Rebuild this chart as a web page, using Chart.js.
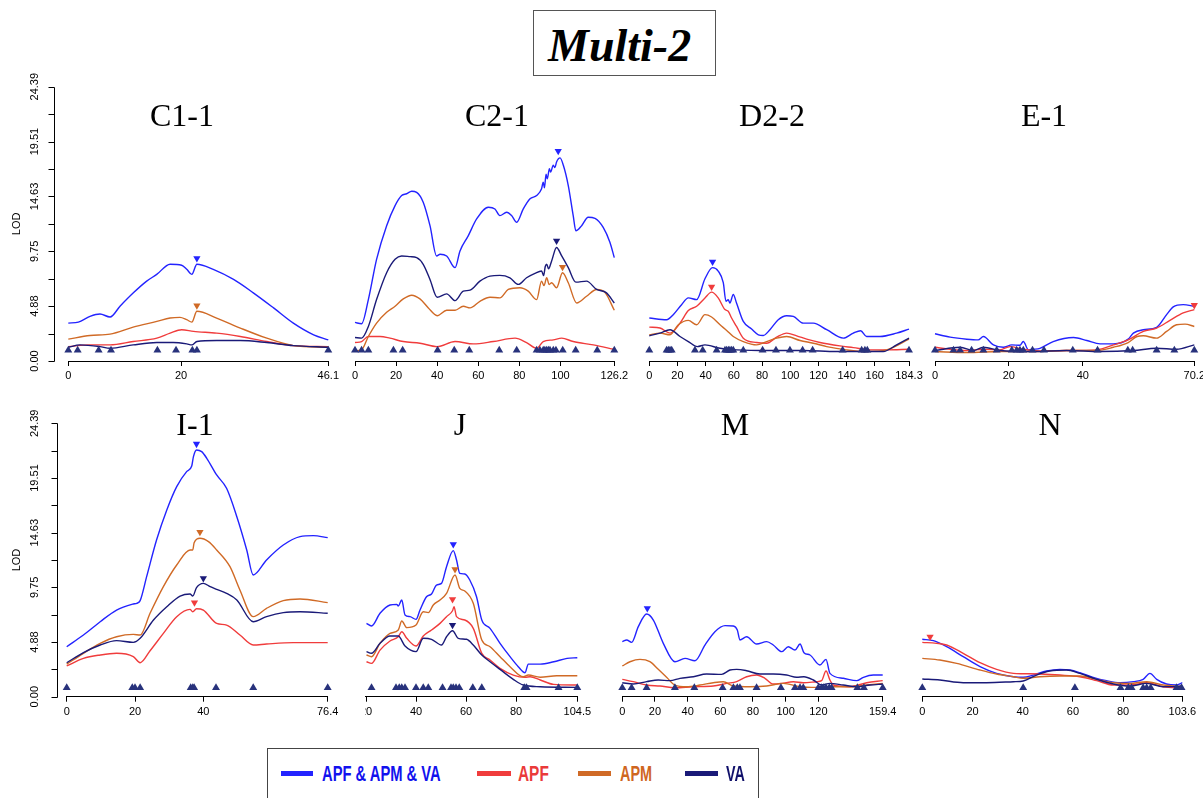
<!DOCTYPE html>
<html>
<head>
<meta charset="utf-8">
<script src="https://cdn.jsdelivr.net/npm/chart.js@4.4.1/dist/chart.umd.min.js"></script>
<style>
  html,body{margin:0;padding:0;background:#fff;}
  body{width:1203px;height:798px;overflow:hidden;position:relative;font-family:"Liberation Sans",Arial,sans-serif;}
  .cv{position:absolute;}
  .clipwrap{position:absolute;overflow:hidden;}
  .ptitle{position:absolute;font-family:"Liberation Serif","Times New Roman",serif;font-size:32px;line-height:32px;color:#000;white-space:nowrap;transform:translateX(-50%);}
  #hdr{position:absolute;left:533px;top:10px;width:181px;height:64px;border:1.5px solid #555;box-sizing:content-box;}
  #hdrtxt{position:absolute;left:548px;top:23px;font-family:"Liberation Serif","Times New Roman",serif;font-weight:bold;font-style:italic;font-size:46px;line-height:46px;color:#000;white-space:nowrap;}
  #legend{position:absolute;left:267px;top:748px;width:490px;height:70px;border:1px solid #444;}
  .lgline{position:absolute;height:5px;}
  .lgtxt{position:absolute;font-family:"Liberation Sans",Arial,sans-serif;font-weight:bold;font-size:22px;line-height:22px;white-space:nowrap;transform-origin:0 50%;}
</style>
</head>
<body>
<div id="hdr"></div>
<div id="hdrtxt">Multi-2</div>
<div id="legend"></div>
<script>
// ---------------- DATA ----------------
const SERIES_NAMES = ['APF & APM & VA', 'APF', 'APM', 'VA'];
const Y_MIN = 0, Y_MAX = 24.39;
const Y_TICKS = [0, 2.439, 4.878, 7.317, 9.756, 12.195, 14.634, 17.073, 19.512, 21.951, 24.39];
const Y_LABELS = ['0.00', '', '4.88', '', '9.75', '', '14.63', '', '19.51', '', '24.39'];
const Y_TITLE = 'LOD';
const PANEL_NAMES = ['C1-1', 'C2-1', 'D2-2', 'E-1', 'I-1', 'J', 'M', 'N'];
const PANEL_LENGTHS = [46.1, 126.2, 184.3, 70.2, 76.4, 104.5, 159.4, 103.6];

const C11_TICKS = [0, 20, 46.1];
const C21_TICKS = [0, 20, 40, 60, 80, 100, 126.2];
const D22_TICKS = [0, 20, 40, 60, 80, 100, 120, 140, 160, 184.3];
const E1_TICKS  = [0, 20, 40, 70.2];
const I1_TICKS  = [0, 20, 40, 76.4];
const J_TICKS   = [0, 20, 40, 60, 80, 104.5];
const M_TICKS   = [0, 20, 40, 60, 80, 100, 120, 159.4];
const N_TICKS   = [0, 20, 40, 60, 80, 103.6];

// marker (triangle) height per row, LOD units
const MARK_Y = [0.95, 0.8];

// C1-1
const C11_ALL = [[0,3.37],[1.78,3.46],[3.85,3.97],[5.62,4.18],[7.4,3.91],[9.17,4.87],[11.54,6.06],[13.9,7.1],[15.68,7.7],[18.05,8.6],[20.1,8.51],[21.0,8.15],[21.9,7.7],[22.8,8.6],[25.7,8.15],[29.3,7.25],[32.8,6.06],[36.4,4.72],[39.9,3.37],[43.5,2.33],[46.1,1.88]];
const C11_APF = [[0,1.28],[3.85,1.43],[7.4,1.43],[11.5,1.73],[15.7,2.03],[18.05,2.48],[20.1,2.78],[22.2,2.63],[26.3,2.48],[30.5,2.18],[35.2,1.73],[39.9,1.37],[46.1,1.28]];
const C11_APM = [[0,1.94],[3.85,2.27],[7.4,2.39],[11.5,3.01],[15.7,3.52],[18.05,3.82],[19.8,3.88],[21,3.67],[21.9,3.46],[22.8,4.42],[26.3,3.82],[30.5,2.93],[35.2,2.03],[39.9,1.37],[46.1,1.22]];
const C11_VA  = [[0,1.22],[2.07,1.43],[5.6,1.28],[7.4,1.13],[11.5,1.43],[15.7,1.64],[18.6,1.64],[21,1.52],[21.9,1.43],[22.8,1.73],[26.3,1.82],[30.5,1.82],[35.2,1.64],[39.9,1.37],[46.1,1.22]];
const C11_MARKERS = [0,1.66,5.38,7.57,15.8,19.1,22.0,22.8,46.1];
const C11_PEAKS = [[0,22.8,9.13],[2,22.8,4.93]];

// C2-1
const C21_ALL = [[0,3.43],[3.2,3.31],[6.5,5.46],[10.5,9.04],[15.4,12.03],[19.5,13.82],[22.7,14.72],[25.1,14.87],[27.6,15.1],[30,15.0],[33.2,14.12],[36.5,12.03],[39.7,9.34],[41.4,9.49],[44.6,9.34],[48.7,8.3],[51.1,9.79],[55.1,11.13],[59.2,12.63],[64.9,13.67],[68.1,13.52],[70.5,12.93],[73.8,13.22],[76.2,12.93],[78.7,12.33],[81.9,13.52],[85.2,14.42],[88.4,14.72],[90.8,15.31],[91.6,15.9],[92.2,15.4],[93.0,16.6],[93.6,16.2],[94.6,17.1],[95.2,16.8],[96.5,17.4],[97.3,17.2],[98.1,17.7],[99.8,18.06],[101.4,17.4],[103.8,15.6],[106.2,12.93],[107.5,11.58],[110.3,12.03],[113.5,12.78],[116.8,12.69],[120.8,11.88],[124.1,10.54],[126.2,9.19]];
const C21_APF = [[0,1.64],[3.2,1.73],[6.5,2.18],[8.9,2.18],[12.2,2.18],[17,2.03],[23.5,1.73],[31.6,1.58],[40,1.28],[48.7,1.73],[57.6,1.52],[67.3,1.73],[77.9,2.03],[83.5,1.64],[88.4,1.13],[91.6,1.73],[96.5,1.88],[100.6,2.03],[106.2,1.73],[116,1.43],[126.2,1.04]];
const C21_APM = [[0,0.9],[3.2,0.99],[6.5,2.18],[10.5,3.37],[15.4,4.33],[19.5,4.87],[23.5,5.52],[27.6,5.85],[31.6,5.52],[35.7,4.72],[40,4.03],[44.6,4.51],[48.7,4.51],[52.7,4.87],[56,4.72],[60.8,5.31],[65.7,5.67],[70.5,5.61],[74.6,6.36],[80.3,6.51],[84.3,6.21],[88.4,5.46],[90.8,7.1],[92.0,6.7],[93.3,7.4],[94.5,6.8],[95.7,6.96],[98.1,6.51],[101,7.85],[103.8,6.96],[107.9,5.16],[112.7,5.76],[117.6,6.36],[121.6,6.12],[126.2,4.51]];
const C21_VA  = [[0,2.09],[3.2,2.03],[6.5,3.07],[10.5,5.46],[15.4,7.85],[19.5,9.04],[22.7,9.34],[26.8,9.28],[30,9.19],[33.2,8.6],[36.5,7.25],[40,5.67],[44.6,5.97],[48.7,5.37],[52.7,6.21],[56,6.3],[60.8,7.1],[65.7,7.55],[70.5,7.61],[75.4,7.4],[79.5,6.81],[83.5,7.4],[87.6,7.79],[90.8,8.0],[91.8,7.6],[92.6,8.4],[93.3,8.6],[94.2,8.2],[95.7,8.9],[98.1,10.09],[100.6,9.34],[103.8,8.3],[107.5,7.01],[112.7,7.1],[117.6,6.36],[122.4,6.06],[126.2,5.16]];
const C21_MARKERS = [0,3.2,6.5,18.7,23.2,40.2,48.3,55.6,70.2,78.7,88.4,90.0,91.6,92.4,93.3,94.1,94.9,96.5,97.8,101.1,107.4,117.9,126.2];
const C21_PEAKS = [[0,98.9,18.66],[3,98.1,10.69],[2,101,8.36]];

// D2-2
const D22_ALL = [[0,3.82],[12.3,3.67],[17,4.12],[22.9,5.01],[27.7,5.61],[33.6,5.46],[39.5,7.31],[44.9,8.3],[48.9,8.0],[52.5,6.96],[54.4,5.31],[56,5.46],[57.2,5.16],[59.6,5.91],[61.9,5.16],[66.7,3.52],[72.6,2.84],[77.4,2.33],[80.9,2.27],[85.6,2.78],[91.5,3.67],[97.5,4.03],[102.2,3.97],[109.3,3.37],[116.4,3.37],[125.9,2.78],[137.7,2.03],[144.8,2.48],[150,2.69],[154.2,2.18],[163.7,2.18],[175.5,2.48],[184.3,2.84]];
const D22_APF = [[0,3.01],[7.6,2.93],[14.7,2.48],[21.8,3.37],[27.7,4.48],[33.6,4.87],[39.5,5.61],[44.2,6.12],[48.9,5.61],[53.7,4.57],[56,4.42],[58.4,3.82],[61.9,3.07],[66.7,2.03],[76.2,1.64],[83.3,1.58],[90.4,2.12],[97.5,2.48],[104.6,2.24],[111.7,1.94],[121.1,1.64],[135.3,1.34],[144.8,1.19],[156.6,0.99],[168.4,0.99],[184.3,1.04]];
const D22_APM = [[0,2.33],[7.6,2.48],[14.7,2.33],[20.6,3.22],[27.7,3.61],[33.6,3.22],[39.5,4.12],[44.2,3.91],[50.2,3.22],[54.9,2.72],[59.6,2.18],[66.7,1.73],[76.2,1.43],[83.3,1.73],[90.4,2.03],[97.5,2.18],[107,1.82],[116.4,1.58],[125.9,1.28],[140,0.99],[154.2,0.84],[168.4,0.99],[184.3,1.94]];
const D22_VA  = [[0,2.24],[7.6,2.48],[14.7,2.78],[21.8,2.18],[27.7,1.73],[34.1,1.28],[39.5,1.43],[50.2,1.13],[61.9,0.99],[85.6,0.93],[109.3,0.93],[132.9,0.84],[154.2,0.84],[166,0.84],[175.5,1.43],[184.3,2.03]];
const D22_MARKERS = [0,12.3,13.5,14.7,15.9,32.4,37.9,47.8,53.7,54.9,56.1,57.2,58.4,59.6,66.7,80.4,89.9,99.8,108.8,115.9,137.2,150.7,153,154.7,184.3];
const D22_PEAKS = [[0,44.9,8.81],[1,44.2,6.6]];

// E-1
const E1_ALL = [[0,2.42],[4.1,2.12],[8.6,1.94],[11.7,1.88],[13.1,2.18],[15.8,1.43],[18.5,1.22],[20.8,1.43],[23,1.4],[23.9,1.73],[25.3,0.99],[26.6,1.04],[28.4,1.13],[32,1.73],[37.5,2.09],[41.1,1.82],[44.7,1.52],[48.3,1.52],[52.3,1.94],[53.7,2.48],[56.4,2.78],[60,2.99],[62.7,4.12],[64.5,4.81],[67.2,5.01],[70.2,4.87]];
const E1_APF = [[0,1.22],[4.1,1.04],[8.6,0.93],[13.1,1.04],[17.6,0.99],[20.3,1.28],[23.9,1.04],[28.4,0.9],[35.6,0.93],[43.8,0.99],[48.3,1.43],[52.3,1.88],[56.4,2.63],[60,2.93],[63.6,3.61],[67.2,4.27],[70.2,4.57]];
const E1_APM = [[0,0.84],[8.6,0.75],[17.6,0.84],[26.6,0.84],[35.6,0.93],[43.8,0.93],[48.3,1.22],[52.3,1.64],[54.7,2.18],[56.4,2.24],[60,2.03],[62.7,2.63],[65.4,3.22],[67.7,3.28],[70.2,3.07]];
const E1_VA  = [[0,0.93],[6.8,1.22],[10.4,0.93],[13.1,1.22],[17.6,0.93],[26.6,0.84],[35.6,0.93],[44.7,0.84],[53.7,0.93],[60,1.13],[65.4,1.04],[70.2,1.43]];
const E1_MARKERS = [0,5.0,6.8,9.9,13.1,16.7,20.8,22.1,23.0,23.9,26.4,29.5,37.3,44.0,52.2,53.5,60.0,64.8,70.2];
const E1_PEAKS = [[1,70.2,4.96]];

// I-1
const I1_ALL = [[0,4.46],[4.9,5.5],[9.8,6.69],[14.6,7.73],[19.5,8.27],[20.5,8.33],[21.5,8.57],[23.4,10.71],[26.3,13.98],[29.3,16.66],[32.2,18.74],[35.1,20.08],[36.6,20.58],[37.1,21.42],[38,22.01],[39.5,21.86],[41,21.27],[43.9,19.78],[46.8,18.59],[49.8,16.06],[52.7,13.09],[54.6,10.86],[58.5,12.2],[63.4,13.53],[68.3,14.28],[72.2,14.37],[76.4,14.19]];
const I1_APF = [[0,2.74],[4.9,3.42],[9.8,3.72],[14.6,3.87],[19.5,3.57],[21.5,3.03],[24.4,4.1],[28.3,5.65],[32.2,7.14],[36.1,7.79],[36.9,7.58],[38,7.85],[40,7.73],[43.9,6.54],[46.8,6.39],[50.7,5.5],[54.6,4.61],[58.5,4.7],[66.3,4.82],[76.4,4.82]];
const I1_APM = [[0,2.91],[4.9,3.87],[9.8,4.76],[14.6,5.35],[19.5,5.56],[21.5,5.5],[24.4,7.44],[28.3,9.82],[32.2,11.75],[36.1,13.09],[36.9,13.09],[37.3,13.74],[39,14.13],[41.5,13.83],[43.9,13.09],[47.8,11.6],[50.7,9.52],[54.6,7.14],[58.5,7.88],[63.4,8.57],[68.3,8.72],[76.4,8.39]];
const I1_VA  = [[0,3.03],[4.9,3.93],[9.8,4.61],[14.6,5.0],[19.5,4.85],[21.5,5.21],[25.4,6.84],[29.3,8.03],[33.2,8.98],[36.1,9.16],[36.9,8.98],[38,9.73],[40,10.11],[42,9.82],[43.9,9.58],[46.8,9.22],[49.8,8.63],[54.6,6.69],[58.5,7.14],[63.4,7.5],[68.3,7.58],[76.4,7.44]];
const I1_MARKERS = [0,19.2,20.0,21.5,36.3,36.9,37.3,43.7,54.6,76.4];
const I1_PEAKS = [[0,38,22.55],[2,39,14.69],[3,40,10.56],[1,37.4,8.39]];

// J
const J_ALL = [[20.2,6.54],[22.2,6.31],[25.6,7.44],[29.6,8.18],[32.3,8.24],[32.9,8.09],[34.3,8.63],[35.6,7.29],[37.6,7.14],[40.0,6.9],[41.6,7.73],[44.2,8.92],[46.2,9.16],[48.2,9.96],[50.2,10.11],[52.2,11.6],[54.9,13.03],[56.2,12.2],[57.5,11.0],[59.5,10.95],[61.5,10.41],[64.2,8.92],[66.3,6.84],[69.6,6.1],[73.6,4.76],[77.6,3.57],[80.9,2.68],[83.6,2.14],[84.9,2.91],[89.7,2.91],[95.1,3.12],[100.4,3.42],[104.5,3.48]];
const J_APF = [[20.2,3.12],[22.2,2.97],[25.6,4.16],[29.6,4.97],[32.9,5.35],[34.3,5.8],[36.3,5.21],[40.0,4.52],[42.9,5.41],[46.2,5.95],[49.6,6.54],[52.2,7.14],[54.6,7.67],[55.2,8.03],[56.2,7.14],[59.5,6.84],[62.9,6.1],[66.3,3.87],[69.6,3.27],[73.6,2.53],[78.9,1.93],[83.6,1.73],[85.6,1.78],[89.7,1.49],[95.0,1.1],[104.5,1.04]];
const J_APM = [[20.2,3.72],[22.2,3.57],[25.6,4.76],[29.6,5.65],[32.9,5.95],[34.3,6.75],[36.3,6.16],[40.0,6.39],[42.9,7.58],[44.9,7.5],[46.9,8.18],[49.6,8.63],[52.2,9.22],[55.6,10.86],[57.5,9.67],[59.5,9.43],[62.9,8.33],[66.3,5.06],[69.6,4.46],[73.6,3.57],[77.6,2.68],[82.9,1.78],[84.9,1.93],[89.7,1.73],[96.3,1.87],[104.5,1.87]];
const J_VA  = [[20.2,4.02],[22.2,3.87],[25.6,4.76],[29.6,5.41],[32.9,5.41],[35.6,4.52],[40.0,4.02],[42.9,5.21],[46.2,5.12],[50.2,4.61],[52.2,5.35],[54.6,5.89],[56.9,5.21],[60.2,5.12],[62.9,4.61],[66.3,3.72],[69.6,3.12],[73.6,2.44],[78.9,1.55],[82.9,1.04],[89.7,0.89],[104.5,0.83]];
const J_MARKERS = [22.2,32.0,33.3,34.3,35.6,40.0,42.9,44.9,50.6,54.0,54.9,56.0,57.3,62.7,66.3,83.3,84.2,97.0,104.5];
const J_PEAKS = [[0,54.9,13.59],[2,55.6,11.36],[1,54.6,8.69],[3,54.6,6.39]];

// M
const M_ALL = [[0,4.91],[2.7,5.06],[5.7,4.85],[9.8,6.25],[14.9,7.38],[19,6.84],[25.1,4.76],[32.2,3.12],[38.4,3.42],[44.5,3.21],[50.6,4.61],[56.7,5.8],[62.9,6.34],[68,6.31],[70.4,5.95],[72,5.06],[76.1,5.35],[82.2,4.7],[88.4,4.91],[92.4,4.61],[97.6,4.02],[101.6,4.46],[105.7,4.16],[108.8,4.7],[111.2,3.93],[114.9,3.72],[121,2.83],[124.7,3.33],[127.1,2.08],[135.3,1.64],[143.5,1.43],[147.6,1.73],[153.7,1.93],[159.4,1.93]];
const M_APF = [[0,1.55],[6.7,1.34],[14.9,1.04],[23.1,0.95],[32.2,0.8],[43.5,0.89],[55.7,0.95],[63.9,1.19],[70,1.34],[76.1,1.78],[82.2,1.93],[87.3,1.64],[92.4,1.13],[97.6,1.19],[104.7,1.34],[110.8,1.25],[119,1.34],[122,1.43],[124.7,2.29],[127.1,1.49],[129.2,1.04],[139.4,0.89],[149.6,1.25],[159.4,1.43]];
const M_APM = [[0,2.74],[4.7,3.12],[10.8,3.33],[16.9,3.12],[22,2.44],[27.1,1.73],[32.2,1.04],[39.4,0.89],[47.6,1.04],[55.7,1.25],[61.8,1.34],[68,0.95],[78.2,0.89],[88.4,0.95],[98.6,1.19],[108.8,0.89],[119,0.83],[129.2,0.89],[139.4,0.89],[149.6,1.04],[159.4,1.19]];
const M_VA  = [[0,1.25],[6.7,1.13],[14.9,1.34],[22,1.49],[29.2,1.43],[35.3,1.64],[43.5,1.78],[51.6,2.02],[60.8,1.99],[65.9,2.38],[70,2.44],[76.1,2.32],[84.3,2.02],[92.4,2.02],[100.6,1.93],[106.7,1.73],[111.2,1.78],[116.9,1.49],[122,1.04],[127.1,1.19],[135.3,1.04],[143.5,0.89],[151.6,1.04],[159.4,1.13]];
const M_MARKERS = [0,5.7,14.9,32.2,44.1,61.4,68,70.4,72,82.2,97.1,105.7,108.8,110.8,120,122,123.1,124.7,126.7,128.1,143.9,147.9,159.4];
const M_PEAKS = [[0,15.3,7.88]];

// N
const N_ALL = [[0,5.12],[4.4,5.0],[9.7,4.46],[16.3,3.57],[23,2.68],[29.6,2.08],[36.3,1.78],[40.2,1.73],[44.2,1.93],[49.5,2.29],[54.8,2.44],[58.8,2.38],[62.8,2.14],[68.1,1.73],[73.4,1.43],[78.8,1.25],[84.1,1.34],[88,1.55],[90.7,2.08],[93.4,1.55],[97.3,1.13],[101.3,1.04],[103.6,1.25]];
const N_APF = [[0,4.85],[5.7,4.76],[9.7,4.61],[16.3,3.87],[23,3.03],[29.6,2.44],[36.3,2.08],[40.2,2.05],[46.8,2.02],[54.8,1.93],[62.8,1.78],[69.5,1.43],[76.1,1.04],[82.7,1.04],[89.4,1.25],[96,0.89],[103.6,0.8]];
const N_APM = [[0,3.42],[7,3.27],[13.7,2.97],[23,2.38],[29.6,2.02],[36.3,1.78],[40.2,1.64],[46.8,1.78],[54.8,1.84],[62.8,1.84],[69.5,1.55],[76.1,1.25],[82.7,1.19],[89.4,1.34],[96,1.04],[103.6,0.89]];
const N_VA  = [[0,1.58],[7,1.49],[16.3,1.25],[25.6,1.25],[36.3,1.34],[40.2,1.4],[45.5,1.93],[50.8,2.29],[57.5,2.38],[62.8,2.08],[69.5,1.55],[76.1,1.13],[82.7,0.95],[89.4,1.19],[96,0.89],[103.6,0.95]];
const N_MARKERS = [0,40.2,60.8,79,82.1,83.4,88,89.4,91,101.3,103.3];
const N_PEAKS = [[1,3.1,5.35]];

// ---------------- STYLE / LAYOUT ----------------
const COLORS = ['#2323ff', '#f03c3c', '#d06a26', '#1a1a78'];
const LEGEND_TEXT_COLORS = ['#1212ee', '#ea3a3a', '#cf661f', '#10106a'];
const MARK_COLOR = '#28327c';
const ROWS = [
  {top: 86.7, bottom: 361.0, tickPad: 3},
  {top: 423.3, bottom: 696.7, tickPad: 4}
];
const GEOM = [
  {x0: 68.3,  x1: 328.3,  row: 0, titleX: 182, yAxis: {axisX: 54, labelX: 35, titleX: 17}},
  {x0: 355.0, x1: 614.3,  row: 0, titleX: 497},
  {x0: 649.3, x1: 909.0,  row: 0, titleX: 772},
  {x0: 935.0, x1: 1194.3, row: 0, titleX: 1044},
  {x0: 66.7,  x1: 327.7,  row: 1, titleX: 195, yAxis: {axisX: 56.5, labelX: 35, titleX: 17}},
  {x0: 316.0, x1: 577.3,  row: 1, titleX: 460, clipLeft: 364.5},
  {x0: 622.3, x1: 882.7,  row: 1, titleX: 735},
  {x0: 922.3, x1: 1182.3, row: 1, titleX: 1050}
];
const TITLE_TOP = [99, 408];

const PANEL_DATA = [
  {ticks: C11_TICKS, series: [C11_ALL, C11_APF, C11_APM, C11_VA], markers: C11_MARKERS, peaks: C11_PEAKS},
  {ticks: C21_TICKS, series: [C21_ALL, C21_APF, C21_APM, C21_VA], markers: C21_MARKERS, peaks: C21_PEAKS},
  {ticks: D22_TICKS, series: [D22_ALL, D22_APF, D22_APM, D22_VA], markers: D22_MARKERS, peaks: D22_PEAKS},
  {ticks: E1_TICKS,  series: [E1_ALL, E1_APF, E1_APM, E1_VA],     markers: E1_MARKERS,  peaks: E1_PEAKS},
  {ticks: I1_TICKS,  series: [I1_ALL, I1_APF, I1_APM, I1_VA],     markers: I1_MARKERS,  peaks: I1_PEAKS},
  {ticks: J_TICKS,   series: [J_ALL, J_APF, J_APM, J_VA],         markers: J_MARKERS,   peaks: J_PEAKS},
  {ticks: M_TICKS,   series: [M_ALL, M_APF, M_APM, M_VA],         markers: M_MARKERS,   peaks: M_PEAKS},
  {ticks: N_TICKS,   series: [N_ALL, N_APF, N_APM, N_VA],         markers: N_MARKERS,   peaks: N_PEAKS}
];

// ---------------- Y AXIS PLUGIN ----------------
const lodAxisPlugin = {
  id: 'lodAxis',
  afterDraw(chart, args, o) {
    if (!o || !o.enabled) return;
    const ctx = chart.ctx, ys = chart.scales.y;
    const ax = Math.round(o.axisX) + 0.5;
    ctx.save();
    ctx.strokeStyle = '#000';
    ctx.lineWidth = 1;
    ctx.beginPath();
    ctx.moveTo(ax, Math.round(ys.getPixelForValue(Y_MIN)) + 0.5);
    ctx.lineTo(ax, Math.round(ys.getPixelForValue(Y_MAX)) + 0.5);
    Y_TICKS.forEach(v => {
      const p = Math.round(ys.getPixelForValue(v)) + 0.5;
      ctx.moveTo(ax, p);
      ctx.lineTo(ax - 6, p);
    });
    ctx.stroke();
    ctx.fillStyle = '#000';
    ctx.font = '11px "Liberation Sans", Arial, sans-serif';
    ctx.textAlign = 'center';
    ctx.textBaseline = 'middle';
    Y_LABELS.forEach((t, i) => {
      if (!t) return;
      ctx.save();
      ctx.translate(o.labelX, ys.getPixelForValue(Y_TICKS[i]));
      ctx.rotate(-Math.PI / 2);
      ctx.fillText(t, 0, 0);
      ctx.restore();
    });
    ctx.save();
    ctx.translate(o.titleX, ys.getPixelForValue((Y_MIN + Y_MAX) / 2));
    ctx.rotate(-Math.PI / 2);
    ctx.fillText(Y_TITLE, 0, 0);
    ctx.restore();
    ctx.restore();
  }
};

// ---------------- BUILD ----------------
const AXIS_H = 30;
function toXY(pts) { return pts.map(p => ({x: p[0], y: p[1]})); }

PANEL_DATA.forEach((pd, i) => {
  const g = GEOM[i];
  const row = ROWS[g.row];
  const len = PANEL_LENGTHS[i];
  const padSide = 32;
  const cLeft = g.yAxis ? 0 : Math.floor(g.x0) - padSide;
  const cTop = Math.floor(row.top) - 14;
  const cRight = Math.ceil(g.x1) + padSide;
  const W = cRight - cLeft;
  const areaH = row.bottom - cTop;
  const H = Math.ceil(areaH) + AXIS_H + 2;
  const padL = g.x0 - cLeft;
  const padR = W - (g.x1 - cLeft);
  const padT = row.top - cTop;
  const padB = H - AXIS_H - areaH;

  const canvas = document.createElement('canvas');
  canvas.width = W; canvas.height = H;
  canvas.className = 'cv';
  canvas.style.width = W + 'px'; canvas.style.height = H + 'px';
  if (g.clipLeft) {
    const wrap = document.createElement('div');
    wrap.className = 'clipwrap';
    wrap.style.left = g.clipLeft + 'px';
    wrap.style.top = cTop + 'px';
    wrap.style.width = (cRight - g.clipLeft) + 'px';
    wrap.style.height = H + 'px';
    canvas.style.left = (cLeft - g.clipLeft) + 'px';
    canvas.style.top = '0px';
    wrap.appendChild(canvas);
    document.body.appendChild(wrap);
  } else {
    canvas.style.left = cLeft + 'px';
    canvas.style.top = cTop + 'px';
    document.body.appendChild(canvas);
  }

  const datasets = [];
  datasets.push({
    label: 'markers',
    data: pd.markers.map(x => ({x: x, y: MARK_Y[g.row]})),
    showLine: false, pointStyle: 'triangle', pointRadius: 4.6, pointBorderWidth: 0,
    pointBackgroundColor: MARK_COLOR, pointBorderColor: MARK_COLOR, clip: false
  });
  datasets.push({
    label: 'peaks',
    data: pd.peaks.map(p => ({x: p[1], y: p[2]})),
    showLine: false, pointStyle: 'triangle', pointRotation: 180, pointRadius: 4.2, pointBorderWidth: 0,
    pointBackgroundColor: pd.peaks.map(p => COLORS[p[0]]), pointBorderColor: pd.peaks.map(p => COLORS[p[0]]), clip: false
  });
  for (let s = 3; s >= 0; s--) {
    datasets.push({
      label: SERIES_NAMES[s],
      data: toXY(pd.series[s]),
      borderColor: COLORS[s], borderWidth: 1.4, pointRadius: 0, fill: false,
      cubicInterpolationMode: 'monotone', clip: false
    });
  }

  new Chart(canvas, {
    type: 'line',
    data: {datasets},
    plugins: [lodAxisPlugin],
    options: {
      responsive: false, animation: false, events: [],
      devicePixelRatio: 1,
      layout: {autoPadding: false, padding: {left: padL, right: padR, top: padT, bottom: padB}},
      plugins: {
        legend: {display: false}, tooltip: {enabled: false}, title: {display: false},
        lodAxis: g.yAxis ? Object.assign({enabled: true}, g.yAxis) : {enabled: false}
      },
      scales: {
        x: {
          type: 'linear', min: 0, max: len,
          afterBuildTicks: sc => { sc.ticks = pd.ticks.map(v => ({value: v})); },
          afterFit: sc => { sc.height = AXIS_H; },
          grid: {display: true, drawOnChartArea: false, drawTicks: true, tickLength: 5, color: '#000', lineWidth: 1},
          border: {display: true, color: '#000', width: 1},
          ticks: {
            autoSkip: false, maxRotation: 0, minRotation: 0, padding: row.tickPad, color: '#000',
            font: {family: '"Liberation Sans", Arial, sans-serif', size: 11},
            callback: v => String(v)
          }
        },
        y: {type: 'linear', min: Y_MIN, max: Y_MAX, display: false}
      }
    }
  });

  const t = document.createElement('div');
  t.className = 'ptitle';
  t.textContent = PANEL_NAMES[i];
  t.style.left = g.titleX + 'px';
  t.style.top = TITLE_TOP[g.row] + 'px';
  document.body.appendChild(t);
});

// ---------------- LEGEND ----------------
const LEGEND_POS = [
  {l1: 281, l2: 313, tx: 322, sx: 0.67},
  {l1: 477, l2: 511, tx: 518, sx: 0.70},
  {l1: 578, l2: 611, tx: 620, sx: 0.655},
  {l1: 685, l2: 718, tx: 726, sx: 0.65}
];
SERIES_NAMES.forEach((name, i) => {
  const p = LEGEND_POS[i];
  const ln = document.createElement('div');
  ln.className = 'lgline';
  ln.style.left = p.l1 + 'px'; ln.style.width = (p.l2 - p.l1) + 'px';
  ln.style.top = '771px'; ln.style.background = COLORS[i];
  document.body.appendChild(ln);
  const tx = document.createElement('div');
  tx.className = 'lgtxt';
  tx.textContent = name;
  tx.style.left = p.tx + 'px'; tx.style.top = '763px';
  tx.style.color = LEGEND_TEXT_COLORS[i];
  tx.style.transform = 'scaleX(' + p.sx + ')';
  document.body.appendChild(tx);
});
</script>
</body>
</html>
